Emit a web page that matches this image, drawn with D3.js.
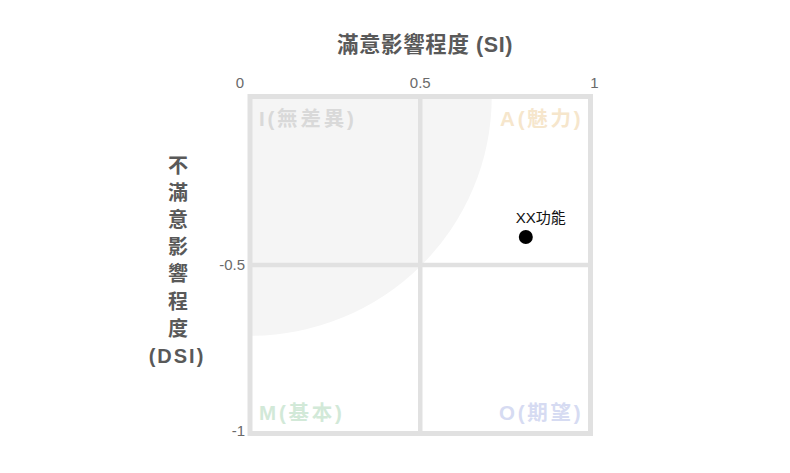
<!DOCTYPE html>
<html>
<head>
<meta charset="utf-8">
<script src="https://cdn.jsdelivr.net/npm/d3@7"></script>
<style>
  html, body { margin: 0; padding: 0; background: #fff; }
  svg { display: block; font-family: "Liberation Sans", "Noto Sans CJK TC", sans-serif; }
</style>
</head>
<body>
<svg id="chart" width="790" height="473"></svg>
<script>
// ---- data ----
const xTicks = [0, 0.5, 1];
const yTicks = [-0.5, -1];
const xTitle = "滿意影響程度 (SI)";
const yTitleChars = ["不", "滿", "意", "影", "響", "程", "度", "(DSI)"];
const quadrantNames = ["I(無差異)", "A(魅力)", "M(基本)", "O(期望)"];
const quadrantColors = ["#d9d9d9", "#f6e6cc", "#d2e9d8", "#d6dbf2"];
const pointNames = ["XX功能"];
const pointSI = [0.81];
const pointDSI = [-0.417];
const indifferenceRadius = 0.71;

// ---- layout ----
const svg = d3.select("#chart");
const x = d3.scaleLinear().domain([0, 1]).range([250, 590.5]);
const y = d3.scaleLinear().domain([0, -1]).range([96.5, 433.5]);
const border = "#e1e1e1";

svg.append("clipPath").attr("id", "plotclip")
  .append("rect")
  .attr("x", x(0)).attr("y", y(0))
  .attr("width", x(1) - x(0)).attr("height", y(-1) - y(0));

const g = svg.append("g").attr("clip-path", "url(#plotclip)");
g.append("ellipse")
  .attr("cx", x(0)).attr("cy", y(0))
  .attr("rx", x(indifferenceRadius) - x(0))
  .attr("ry", y(-indifferenceRadius) - y(0))
  .attr("fill", "#f5f5f5");

svg.append("line")
  .attr("x1", x(0.5)).attr("x2", x(0.5))
  .attr("y1", y(0)).attr("y2", y(-1))
  .attr("stroke", border).attr("stroke-width", 4.5);
svg.append("line")
  .attr("x1", x(0)).attr("x2", x(1))
  .attr("y1", y(-0.5)).attr("y2", y(-0.5))
  .attr("stroke", border).attr("stroke-width", 4.5);

svg.append("rect")
  .attr("x", x(0)).attr("y", y(0))
  .attr("width", x(1) - x(0)).attr("height", y(-1) - y(0))
  .attr("fill", "none").attr("stroke", border).attr("stroke-width", 5);

const qPos = [
  { x: x(0) + 9, y: y(0) + 22, anchor: "start" },
  { x: x(1) - 7, y: y(0) + 22, anchor: "end" },
  { x: x(0) + 9, y: y(-1) - 21, anchor: "start" },
  { x: x(1) - 7, y: y(-1) - 21, anchor: "end" }
];
svg.append("g").selectAll("text").data(quadrantNames).join("text")
  .attr("x", (d, i) => qPos[i].x)
  .attr("y", (d, i) => qPos[i].y)
  .attr("dy", "0.35em")
  .attr("text-anchor", (d, i) => qPos[i].anchor)
  .attr("fill", (d, i) => quadrantColors[i])
  .attr("font-size", 20.5)
  .attr("font-weight", "bold")
  .attr("letter-spacing", 2.8)
  .text(d => d);

svg.append("g").selectAll("text").data(xTicks).join("text")
  .attr("x", v => v === 0 ? x(v) - 6 : (v === 1 ? x(v) + 4 : x(v)))
  .attr("y", 83)
  .attr("dy", "0.35em")
  .attr("text-anchor", v => v === 0 ? "end" : "middle")
  .attr("fill", "#6a6a6a")
  .attr("font-size", 15)
  .text(v => d3.format("")(v));

svg.append("g").selectAll("text").data(yTicks).join("text")
  .attr("x", 245)
  .attr("y", v => v === -1 ? y(v) - 3 : y(v))
  .attr("dy", "0.35em")
  .attr("text-anchor", "end")
  .attr("fill", "#6a6a6a")
  .attr("font-size", 15)
  .text(v => String(v));

svg.append("text")
  .attr("x", 425).attr("y", 44).attr("dy", "0.35em")
  .attr("text-anchor", "middle")
  .attr("fill", "#595959")
  .attr("font-size", 21.5).attr("font-weight", "bold")
  .attr("letter-spacing", 0.6)
  .text(xTitle);

svg.append("g").selectAll("text").data(yTitleChars).join("text")
  .attr("x", (d, i) => i === yTitleChars.length - 1 ? 177 : 178)
  .attr("y", (d, i) => 166 + i * 27.1)
  .attr("dy", "0.35em")
  .attr("text-anchor", "middle")
  .attr("fill", "#595959")
  .attr("font-size", 20).attr("font-weight", "bold")
  .attr("letter-spacing", (d, i) => i === yTitleChars.length - 1 ? 2 : 0)
  .text(d => d);

const pts = pointNames.map((n, i) => ({ name: n, si: pointSI[i], dsi: pointDSI[i] }));
svg.append("g").selectAll("circle").data(pts).join("circle")
  .attr("cx", d => x(d.si)).attr("cy", d => y(d.dsi))
  .attr("r", 7).attr("fill", "#000");
svg.append("g").selectAll("text").data(pts).join("text")
  .attr("x", d => x(d.si) + 15).attr("y", d => y(d.dsi) - 19)
  .attr("dy", "0.35em")
  .attr("text-anchor", "middle")
  .attr("fill", "#111")
  .attr("font-size", 15)
  .text(d => d.name);
</script>
</body>
</html>
